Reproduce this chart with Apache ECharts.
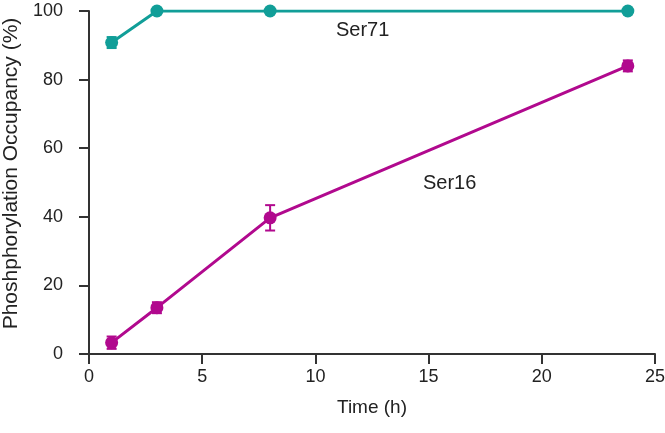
<!DOCTYPE html>
<html>
<head>
<meta charset="utf-8">
<script src="https://cdn.jsdelivr.net/npm/echarts@6/dist/echarts.min.js"></script>
<style>
  html, body { margin: 0; padding: 0; background: #fff; }
  #chart { width: 665px; height: 433px; }
</style>
</head>
<body>
<div id="chart"></div>
<script>
'use strict'
// time points (h)
var times = [1, 3, 8, 23.8]
// occupancy (%)
var ser71 = [90.8, 100, 100, 100]
var ser71Err = [1.6, 0.6, 0.4, 0.6]
var ser16 = [3.3, 13.5, 39.7, 84]
var ser16Err = [1.8, 1.6, 3.7, 1.6]
var xTicks = [0, 5, 10, 15, 20, 25]
var yTicks = [0, 20, 40, 60, 80, 100]

var TEAL = '#119e98'
var MAGENTA = '#b1098e'
var FONT = 'Liberation Sans, Arial, sans-serif'

var chart = echarts.init(document.getElementById('chart'))

function pairs(xs, ys) {
  return xs.map(function(x, i) { return [x, ys[i]] })
}
function errPairs(xs, ys, es) {
  return xs.map(function(x, i) { return [x, ys[i] - es[i], ys[i] + es[i]] })
}

function errorBar(color) {
  return function(params, api) {
    var lo = api.coord([api.value(0), api.value(1)])
    var hi = api.coord([api.value(0), api.value(2)])
    var w = 5
    var style = { stroke: color, lineWidth: 2 }
    return {
      type: 'group',
      children: [
        { type: 'line', shape: { x1: lo[0], y1: lo[1], x2: hi[0], y2: hi[1] }, style: style },
        { type: 'line', shape: { x1: lo[0] - w, y1: lo[1], x2: lo[0] + w, y2: lo[1] }, style: style },
        { type: 'line', shape: { x1: hi[0] - w, y1: hi[1], x2: hi[0] + w, y2: hi[1] }, style: style }
      ]
    }
  }
}

var option = {
  animation: false,
  backgroundColor: '#fff',
  grid: { left: 89, right: 10, top: 11, bottom: 79, containLabel: false, outerBoundsMode: 'none' },
  xAxis: {
    type: 'value',
    min: 0,
    max: 25,
    interval: 5,
    name: 'Time (h)',
    nameLocation: 'middle',
    nameGap: 44,
    nameTextStyle: { color: '#222', fontSize: 19, fontFamily: FONT },
    axisLine: { onZero: false, lineStyle: { color: '#333', width: 2 } },
    axisTick: { length: 10, lineStyle: { color: '#333', width: 2 } },
    axisLabel: {
      color: '#222', fontSize: 18, fontFamily: FONT, margin: 14,
      formatter: function(v) { return xTicks.indexOf(v) >= 0 ? String(v) : '' }
    },
    splitLine: { show: false }
  },
  yAxis: {
    type: 'value',
    min: 0,
    max: 100,
    interval: 20,
    name: 'Phoshphorylation Occupancy (%)',
    nameLocation: 'middle',
    nameGap: 67,
    nameTextStyle: { color: '#222', fontSize: 21, fontFamily: FONT, padding: [0, 0, 0, 18] },
    axisLine: { show: true, onZero: false, lineStyle: { color: '#333', width: 2 } },
    axisTick: { show: true, length: 10, lineStyle: { color: '#333', width: 2 } },
    axisLabel: {
      color: '#222', fontSize: 18, fontFamily: FONT, margin: 26,
      formatter: function(v) { return yTicks.indexOf(v) >= 0 ? String(v) : '' }
    },
    splitLine: { show: false }
  },
  series: [
    {
      type: 'custom',
      renderItem: errorBar(TEAL),
      data: errPairs(times, ser71, ser71Err),
      z: 1
    },
    {
      type: 'custom',
      renderItem: errorBar(MAGENTA),
      data: errPairs(times, ser16, ser16Err),
      z: 1
    },
    {
      name: 'Ser71',
      type: 'line',
      data: pairs(times, ser71),
      symbol: 'circle',
      symbolSize: 13,
      lineStyle: { color: TEAL, width: 3 },
      itemStyle: { color: TEAL },
      z: 3
    },
    {
      name: 'Ser16',
      type: 'line',
      data: pairs(times, ser16),
      symbol: 'circle',
      symbolSize: 13,
      lineStyle: { color: MAGENTA, width: 3 },
      itemStyle: { color: MAGENTA },
      z: 3
    }
  ],
  graphic: [
    {
      type: 'text',
      left: 336,
      top: 20,
      style: { text: 'Ser71', fill: '#222', fontSize: 20, fontFamily: FONT }
    },
    {
      type: 'text',
      left: 423,
      top: 173,
      style: { text: 'Ser16', fill: '#222', fontSize: 20, fontFamily: FONT }
    }
  ]
}

chart.setOption(option)
</script>
</body>
</html>
